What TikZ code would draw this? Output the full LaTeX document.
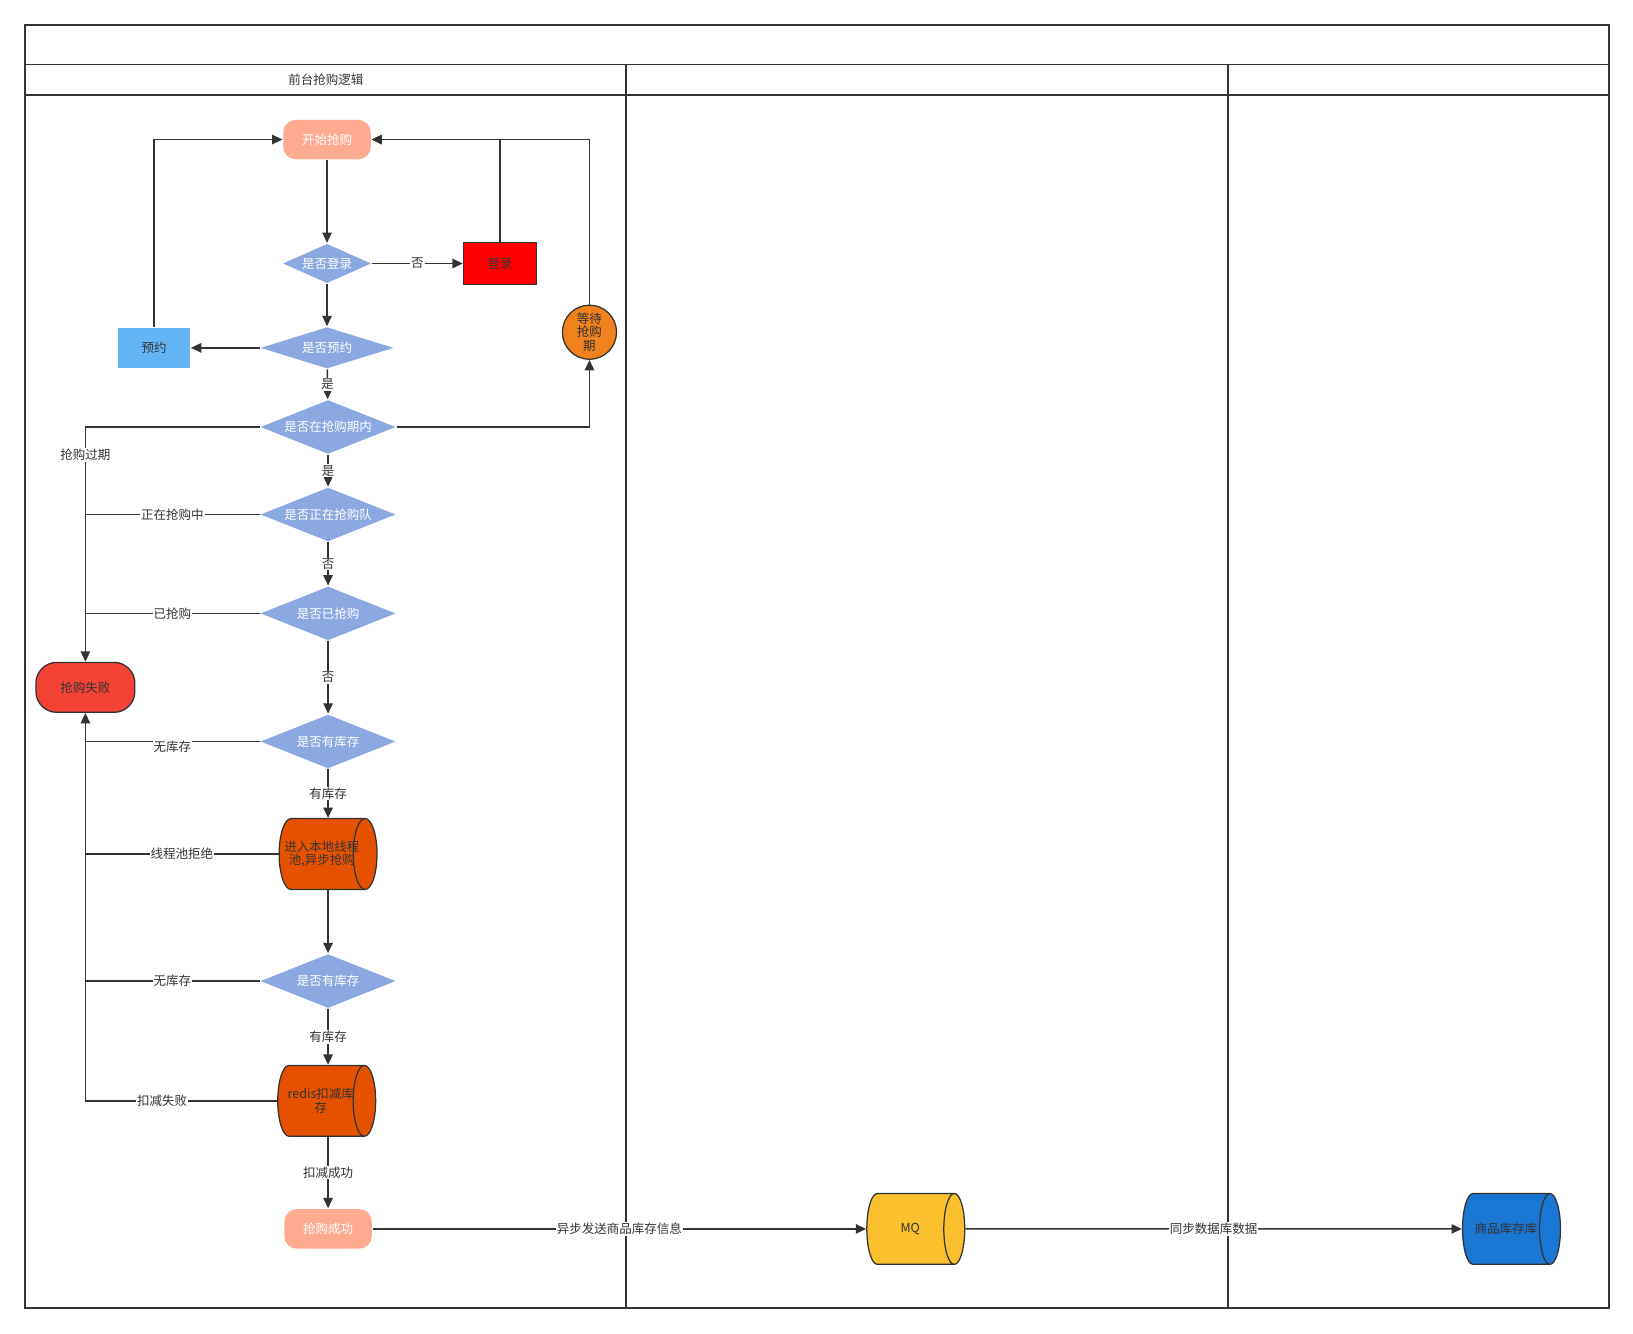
\documentclass[tikz,border=0pt]{standalone}
\usepackage{fontspec}
\setmainfont{Noto Sans CJK SC}
\usetikzlibrary{shapes.geometric,arrows.meta}
\definecolor{ink}{HTML}{333333}
\definecolor{salmon}{HTML}{FFAB91}
\definecolor{dblue}{HTML}{8CA8E0}
\definecolor{orng}{HTML}{F0821E}
\definecolor{lblue}{HTML}{64B5F6}
\definecolor{failred}{HTML}{F44336}
\definecolor{dorange}{HTML}{E65100}
\definecolor{mqyel}{HTML}{FBC02D}
\definecolor{dbblue}{HTML}{1976D2}
\begin{document}
\begin{tikzpicture}[x=1pt,y=-1pt,color=ink,line width=1.5pt,
  >={Triangle[length=10pt,width=9pt]},
  every node/.style={font=\fontsize{12}{13}\selectfont,text=ink,align=center},
  term/.style={rounded corners=12pt,fill=salmon,text=white,
    minimum width=84pt,minimum height=38pt,inner sep=0pt},
  decide/.style={diamond,fill=dblue,text=white,inner sep=0pt,aspect=2.5,
    minimum width=130pt,minimum height=52pt},
  store/.style={cylinder,draw,line width=1.2pt,minimum width=68pt,
    minimum height=94pt,aspect=1.8,inner sep=0pt},
  lbl/.style={fill=white,inner sep=1pt}]
\useasboundingbox (0,0) rectangle (1568,1280);
% pool and lanes
\draw (24,24) rectangle (1545,1256);
\draw (24,62) -- (1545,62);
\draw (24,91) -- (1545,91);
\draw (601,62) -- (601,1256);
\draw (1179,62) -- (1179,1256);
\node (lanea) at (313,77) {前台抢购逻辑};
% nodes
\node[term] (start) at (314,134) {开始抢购};
\node[decide,minimum width=85pt,minimum height=38pt] (login) at (314,253) {是否登录};
\node[draw,fill=red,line width=1.2pt,minimum width=70pt,minimum height=41pt,
  inner sep=0pt] (loginbox) at (480,253) {登录};
\node[circle,draw,fill=orng,line width=1.2pt,minimum size=52pt,inner sep=0pt]
  (wait) at (566,319) {等待\\抢购\\期};
\node[decide,minimum width=128pt,minimum height=40pt] (resv) at (314,334) {是否预约};
\node[fill=lblue,minimum width=69pt,minimum height=39pt,inner sep=0pt]
  (book) at (148,334) {预约};
\node[decide] (period) at (315,410) {是否在抢购期内};
\node[decide] (queue) at (315,494) {是否正在抢购队};
\node[decide] (bought) at (315,589) {是否已抢购};
\node[draw,fill=failred,line width=1.2pt,rounded corners=20pt,minimum width=95pt,
  minimum height=48pt,inner sep=0pt] (fail) at (82,660) {抢购失败};
\node[decide] (stocka) at (315,712) {是否有库存};
\node[store,fill=dorange,aspect=0.9,inner xsep=-8pt]
  (pool) at (309,820) {进入本地线程\\池,异步抢购};
\node[decide] (stockb) at (315,942) {是否有库存};
\node[store,fill=dorange,aspect=0.9,inner xsep=-8pt]
  (redis) at (308,1057) {redis扣减库\\存};
\node[term] (success) at (315,1180) {抢购成功};
\node[store,fill=mqyel] (mq) at (874,1180) {MQ};
\node[store,fill=dbblue] (goods) at (1446,1180) {商品库存库};
\coordinate (rail) at (82,0);
% connectors
\draw[->] (start) -- (login);
\draw[->] (login) -- node[lbl] {否} (loginbox);
\draw[->] (loginbox.north) |- (start.east);
\draw[->] (wait.north) |- (start.east);
\draw[->] (login) -- (resv);
\draw[->] (resv) -- (book);
\draw[->] (book.north) |- (start.west);
\draw[->] (resv) -- node[lbl] {是} (period);
\draw[->] (period.east) -| (wait.south);
\draw[->] (period.west) -| node[lbl,pos=0.56] {抢购过期} (fail.north);
\draw[->] (period) -- node[lbl] {是} (queue);
\draw (queue.west) -- node[lbl] {正在抢购中} (queue.west -| rail);
\draw[->] (queue) -- node[lbl] {否} (bought);
\draw (bought.west) -- node[lbl] {已抢购} (bought.west -| rail);
\draw[->] (bought) -- node[lbl] {否} (stocka);
\draw (stocka.west) -- node[lbl,yshift=-5pt] {无库存} (stocka.west -| rail);
\draw[->] (stocka) -- node[lbl] {有库存} (stocka |- pool.north);
\draw (pool.west) -- node[lbl] {线程池拒绝} (pool.west -| rail);
\draw[->] (pool.south -| stockb) -- (stockb);
\draw (stockb.west) -- node[lbl] {无库存} (stockb.west -| rail);
\draw[->] (stockb) -- node[lbl] {有库存} (stockb |- redis.north);
\draw[->] (redis.west) -| node[lbl,pos=0.3] {扣减失败} (fail.south);
\draw[->] (redis.south -| success) -- node[lbl] {扣减成功} (success);
\draw[->] (success) -- node[lbl] {异步发送商品库存信息} (mq);
\draw[->] (mq) -- node[lbl] {同步数据库数据} (goods);
\end{tikzpicture}
\end{document}
